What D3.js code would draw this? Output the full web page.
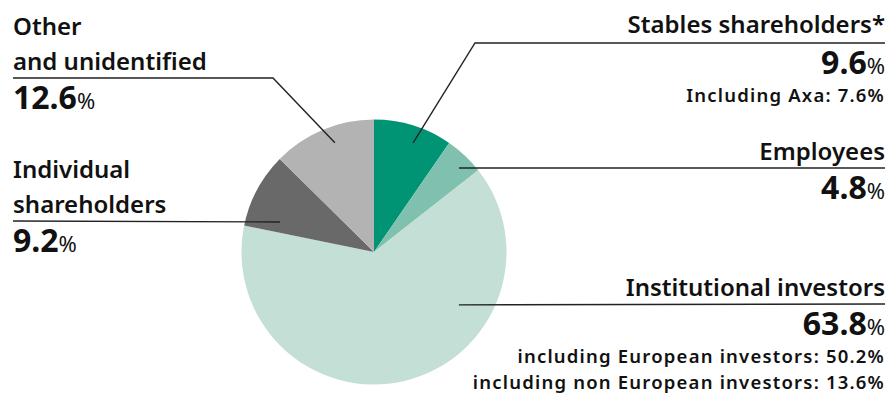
<!DOCTYPE html>
<html>
<head>
<meta charset="utf-8">
<script src="https://cdn.jsdelivr.net/npm/d3@7"></script>
<style>
  body { margin: 0; background: #fff; }
  svg { display: block; font-family: "Noto Sans", sans-serif; }
</style>
</head>
<body>
<svg id="chart" width="890" height="394"></svg>
<script>
// data
const labels = ["Stables shareholders*", "Employees", "Institutional investors", "Individual shareholders", "Other and unidentified"];
const values = [9.6, 4.8, 63.8, 9.2, 12.6];
const colors = ["#009474", "#7fc1ae", "#c4dfd6", "#696969", "#b3b3b3"];
const details = [
  ["Including Axa: 7.6%"],
  [],
  ["including European investors: 50.2%", "including non European investors: 13.6%"],
  [],
  []
];

// label layout (title lines, side, baselines, leader anchor in polar coords)
const layout = [
  { lines: ["Stables shareholders*"], side: "right", y: 33, lineY: 43, kneeX: 475, angle: 19.7, r: 116 },
  { lines: ["Employees"], side: "right", y: 160, lineY: 168, kneeX: null, angle: 45.3, r: 119.5 },
  { lines: ["Institutional investors"], side: "right", y: 296, lineY: 304, kneeX: null, angle: 121.9, r: 100 },
  { lines: ["Individual", "shareholders"], side: "left", y: 178, lineY: 221, kneeX: null, angle: 287.7, r: 98.7 },
  { lines: ["Other", "and unidentified"], side: "left", y: 35, lineY: 78, kneeX: 273, angle: 340.3, r: 116 }
];

const svg = d3.select("#chart");
const cx = 374, cy = 252, radius = 132.5;
const leftX = 13, rightX = 885;

const pie = d3.pie().sort(null).value(d => d)(values);
const arc = d3.arc().innerRadius(0).outerRadius(radius);

const g = svg.append("g").attr("transform", `translate(${cx},${cy})`);
g.selectAll("path")
  .data(pie)
  .join("path")
  .attr("d", arc)
  .attr("fill", (d, i) => colors[i]);

// leaders + labels
layout.forEach((L, i) => {
  const p = d3.pointRadial(L.angle * Math.PI / 180, L.r);
  const ax = cx + p[0], ay = cy + p[1];
  const endX = L.side === "right" ? rightX : leftX;
  const pts = L.kneeX ? [[ax, ay], [L.kneeX, L.lineY], [endX, L.lineY]] : [[ax, ay], [endX, L.lineY]];
  svg.append("path")
    .attr("d", d3.line()(pts))
    .attr("fill", "none")
    .attr("stroke", "#222")
    .attr("stroke-width", 1.4);

  const x = endX;
  const anchor = L.side === "right" ? "end" : "start";

  L.lines.forEach((t, k) => {
    svg.append("text")
      .attr("x", x)
      .attr("y", L.y + k * 35)
      .attr("text-anchor", anchor)
      .attr("font-size", 24)
      .attr("font-weight", 600)
      .attr("fill", "#111")
      .text(t);
  });

  const numY = L.lineY + 31;
  const num = svg.append("text")
    .attr("x", x)
    .attr("y", numY)
    .attr("text-anchor", anchor)
    .attr("fill", "#111");
  num.append("tspan")
    .attr("font-size", 32)
    .attr("font-weight", 700)
    .text(values[i].toFixed(1));
  num.append("tspan")
    .attr("font-size", 22)
    .attr("font-weight", 400)
    .text("%");

  details[i].forEach((t, k) => {
    svg.append("text")
      .attr("x", x)
      .attr("y", numY + 28 + k * 26)
      .attr("text-anchor", anchor)
      .attr("font-size", 18.5)
      .attr("font-weight", 600)
      .attr("letter-spacing", 1.2)
      .attr("fill", "#111")
      .text(t);
  });
});
</script>
</body>
</html>
